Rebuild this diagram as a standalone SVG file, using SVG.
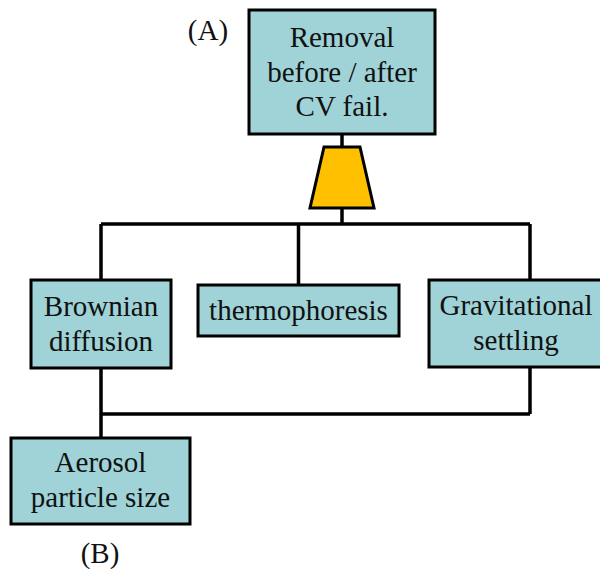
<svg xmlns="http://www.w3.org/2000/svg" width="600" height="571" viewBox="0 0 600 571">
<style>
.box{fill:#9fd3d7;stroke:#000;stroke-width:3}
.t{font-family:'Liberation Serif','DejaVu Serif',serif;font-size:29px;fill:#111;text-anchor:middle}
.c{fill:none;stroke:#000;stroke-width:3.5}
</style>
<rect width="600" height="571" fill="#fff"/>
<g id="connectors">
<path class="c" d="M342 134V148M342 207V224M101 224H530M101 224V280M298.5 224V285M530 224V280"/>
<path class="c" d="M101 368V438M101 414H530M530 367V414"/>
</g>
<g id="gate">
<polygon points="324,147 360,147 374,208 310,208" fill="#ffc000" stroke="#000" stroke-width="3"/>
</g>
<g id="removal">
<rect class="box" x="249" y="10" width="186" height="124"/>
<text class="t" x="342" y="47">Removal</text>
<text class="t" x="342" y="82">before / after</text>
<text class="t" x="342" y="116">CV fail.</text>
</g>
<g id="brownian">
<rect class="box" x="31" y="280" width="140" height="88"/>
<text class="t" x="101" y="316">Brownian</text>
<text class="t" x="101" y="351">diffusion</text>
</g>
<g id="thermo">
<rect class="box" x="198" y="285" width="201" height="51"/>
<text class="t" x="298.5" y="320">thermophoresis</text>
</g>
<g id="gravitational">
<rect class="box" x="429" y="280" width="175" height="87"/>
<text class="t" x="516" y="315">Gravitational</text>
<text class="t" x="516" y="350">settling</text>
</g>
<g id="aerosol">
<rect class="box" x="11" y="438" width="179" height="86"/>
<text class="t" x="100.5" y="472">Aerosol</text>
<text class="t" x="100.5" y="507">particle size</text>
</g>
<g id="labels">
<text class="t" x="208" y="40">(A)</text>
<text class="t" x="100" y="563">(B)</text>
</g>
</svg>
